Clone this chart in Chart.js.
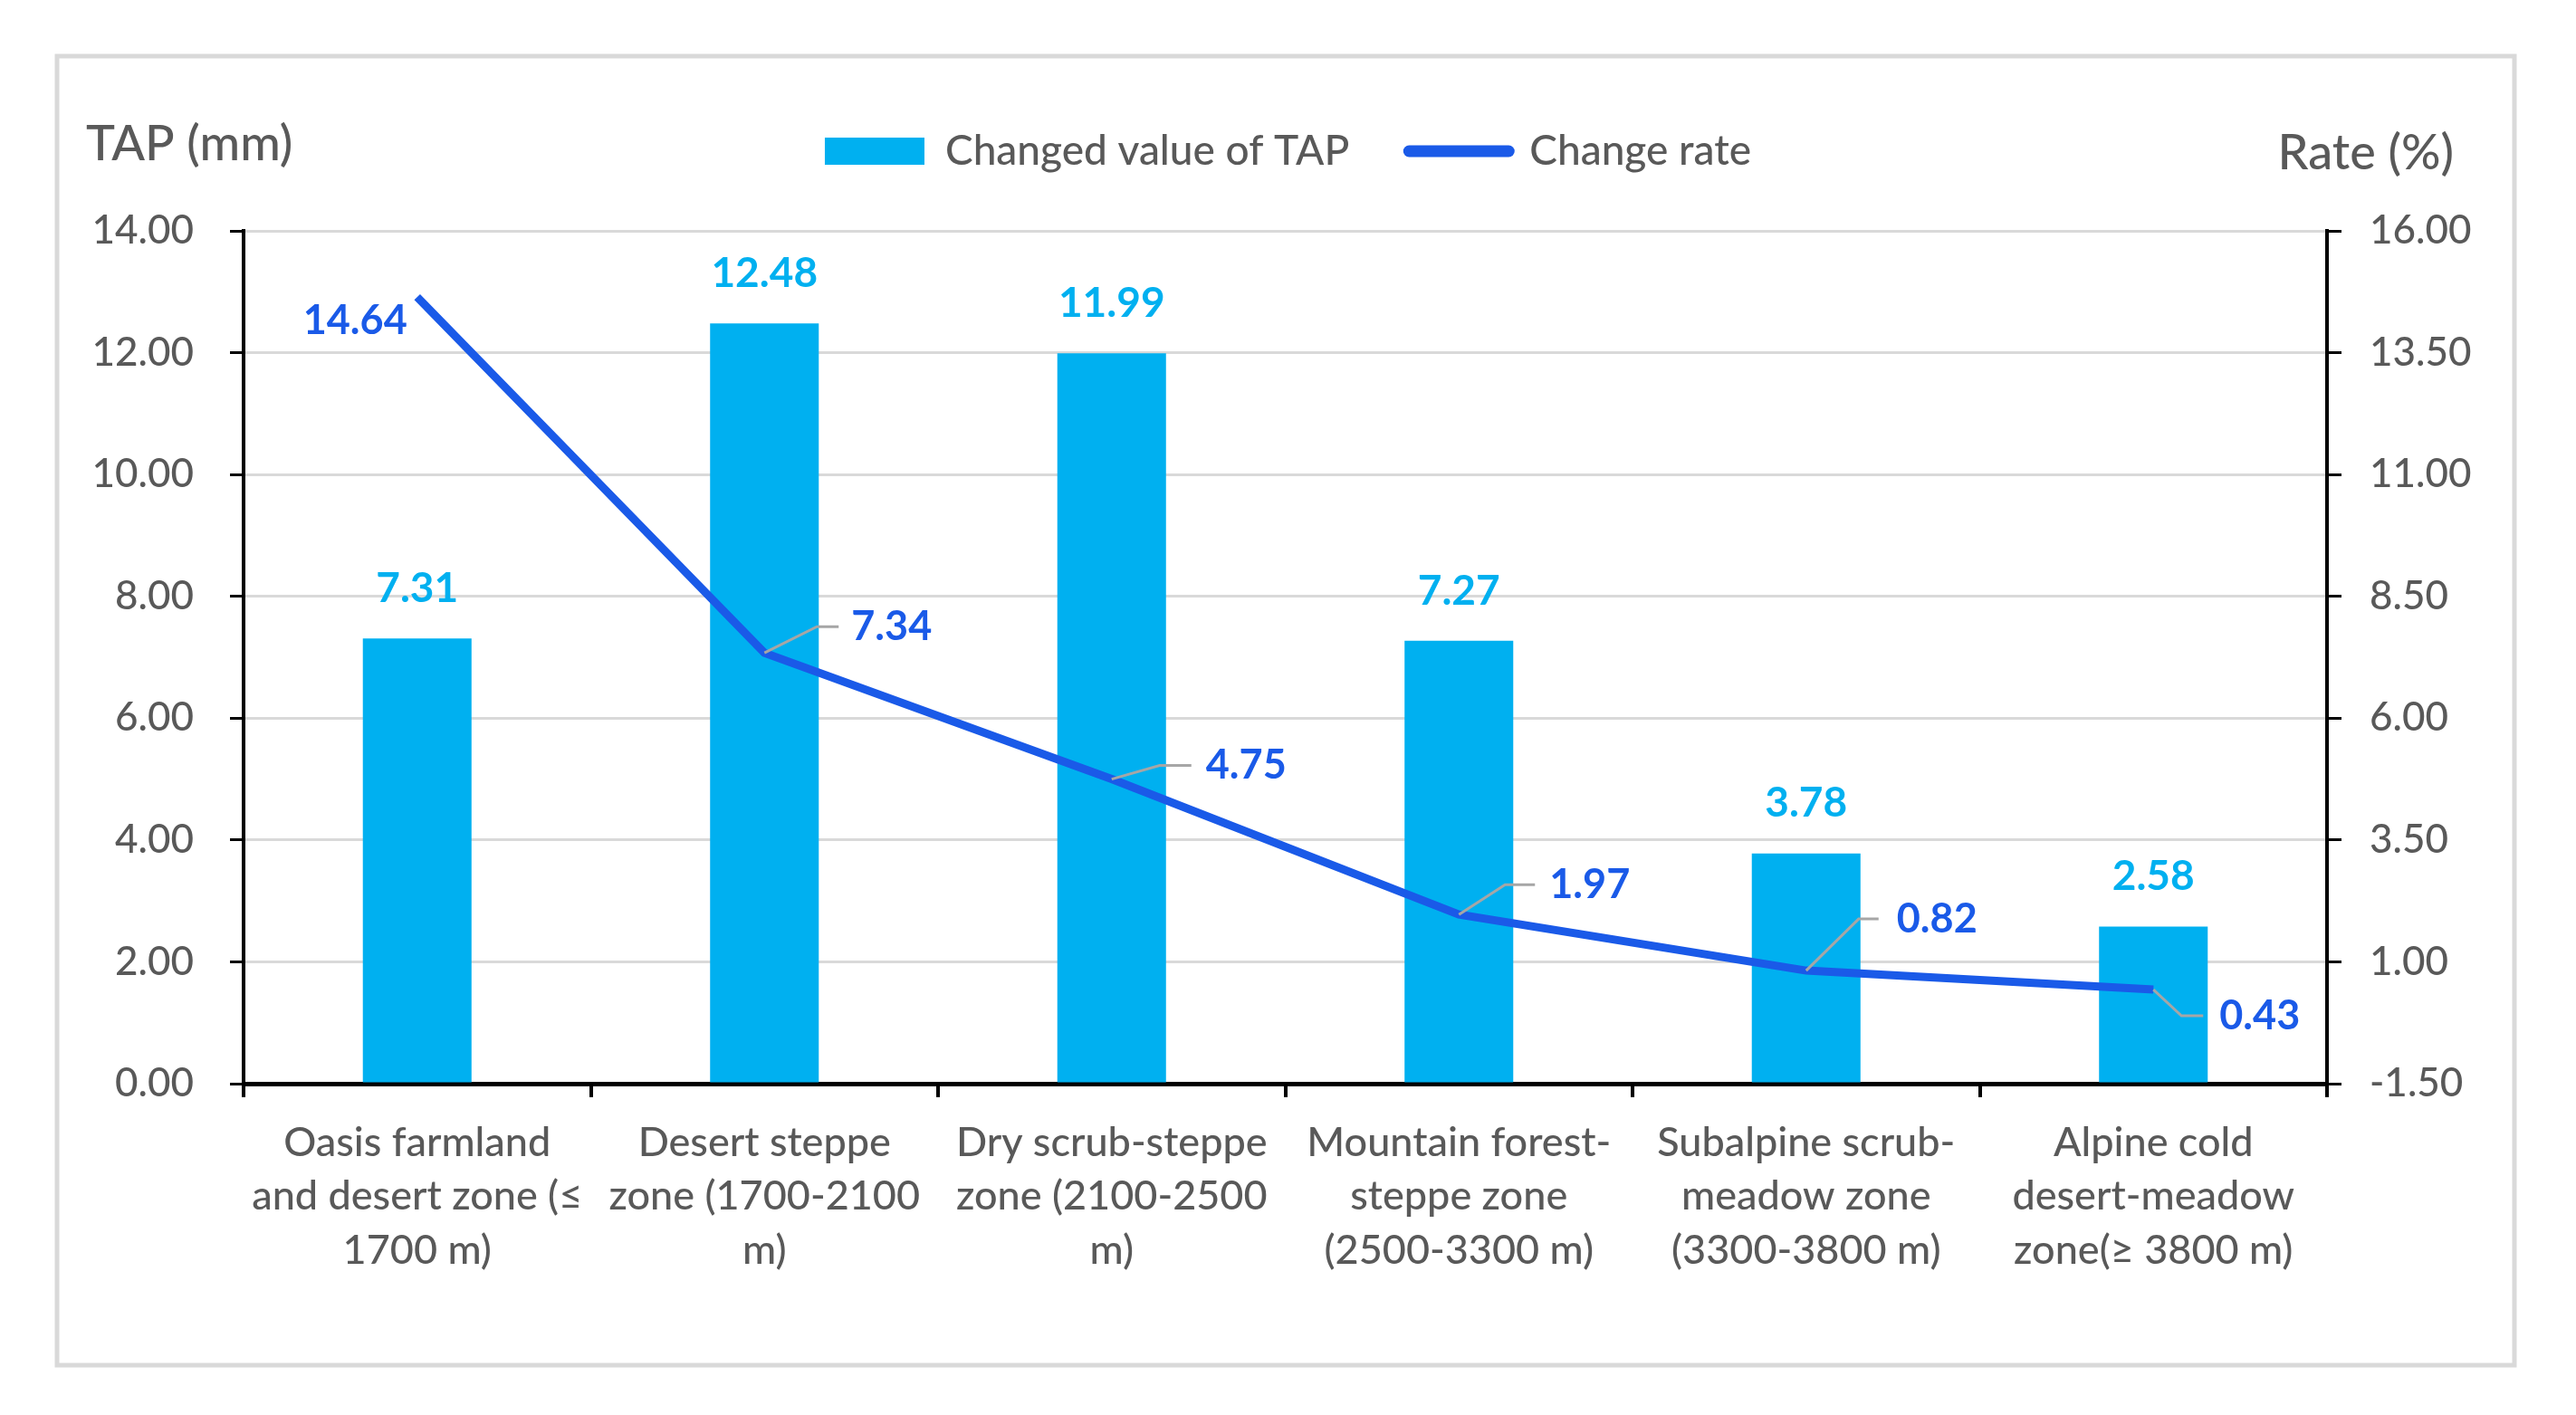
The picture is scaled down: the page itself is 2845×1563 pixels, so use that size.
<!DOCTYPE html>
<html>
<head>
<meta charset="utf-8">
<script src="https://cdn.jsdelivr.net/npm/chart.js@4.4.1/dist/chart.umd.min.js"></script>
<style>
html,body{margin:0;padding:0;background:#ffffff;}
#wrap{width:2845px;height:1563px;}
</style>
</head>
<body>
<div id="wrap"><canvas id="c" width="2845" height="1563"></canvas></div>
<script>
// ---- data ----
const categories = [
  ["Oasis farmland", "and desert zone (\u2264", "1700 m)"],
  ["Desert steppe", "zone (1700-2100", "m)"],
  ["Dry scrub-steppe", "zone (2100-2500", "m)"],
  ["Mountain forest-", "steppe zone", "(2500-3300 m)"],
  ["Subalpine scrub-", "meadow zone", "(3300-3800 m)"],
  ["Alpine cold", "desert-meadow", "zone(\u2265 3800 m)"]
];
const tapChange = [7.31, 12.48, 11.99, 7.27, 3.78, 2.58];
const changeRate = [14.64, 7.34, 4.75, 1.97, 0.82, 0.43];
const seriesNames = ["Changed value of TAP", "Change rate"];
const leftAxisTitle = "TAP (mm)";
const rightAxisTitle = "Rate (%)";
const leftRange = [0, 14, 2];
const rightRange = [-1.5, 16, 2.5];

// ---- styles ----
const BAR_COLOR = '#00B0F0';
const LINE_COLOR = '#1A5AE8';
const TEXT_COLOR = '#595959';
const FONT = 'Lato';
const W = 500;

// leader/label placement for line labels (pixel offsets from the point)
const lineLabelPlacement = [
  {leader: null, tx: -11, ty: 26, align: 'right'},
  {leader: [58, -29, 82], tx: 96, ty: -29, align: 'left'},
  {leader: [53, -15, 88], tx: 104, ty: -15, align: 'left'},
  {leader: [51, -33, 84], tx: 100, ty: -33, align: 'left'},
  {leader: [58, -57, 80], tx: 100, ty: -57, align: 'left'},
  {leader: [31, 29, 55], tx: 73, ty: 29, align: 'left'}
];

const decorPlugin = {
  id: 'decor',
  beforeDraw(chart) {
    const ctx = chart.ctx;
    ctx.save();
    ctx.fillStyle = '#ffffff';
    ctx.fillRect(0, 0, chart.width, chart.height);
    ctx.strokeStyle = '#D9D9D9';
    ctx.lineWidth = 5;
    ctx.strokeRect(63, 62, 2714, 1446);
    ctx.restore();
  },
  afterDatasetsDraw(chart) {
    const ctx = chart.ctx;
    const ca = chart.chartArea;
    ctx.save();
    // axis titles
    ctx.fillStyle = TEXT_COLOR;
    ctx.font = `${W} 54px ${FONT}`;
    ctx.textBaseline = 'middle';
    ctx.textAlign = 'left';
    ctx.fillText(leftAxisTitle, ca.left - 174, ca.top - 95);
    ctx.textAlign = 'right';
    ctx.fillText(rightAxisTitle, ca.right + 140, ca.top - 85);

    // bar labels
    const barMeta = chart.getDatasetMeta(0);
    ctx.font = `bold 46px ${FONT}`;
    ctx.fillStyle = BAR_COLOR;
    ctx.textAlign = 'center';
    barMeta.data.forEach((el, i) => {
      ctx.fillText(tapChange[i].toFixed(2), el.x, el.y - 55);
    });

    // line labels with leader lines
    const lineMeta = chart.getDatasetMeta(1);
    lineMeta.data.forEach((el, i) => {
      const p = lineLabelPlacement[i];
      if (p.leader) {
        ctx.strokeStyle = '#A6A6A6';
        ctx.lineWidth = 3;
        ctx.beginPath();
        ctx.moveTo(el.x, el.y);
        ctx.lineTo(el.x + p.leader[0], el.y + p.leader[1]);
        ctx.lineTo(el.x + p.leader[2], el.y + p.leader[1]);
        ctx.stroke();
      }
      ctx.fillStyle = LINE_COLOR;
      ctx.font = `bold 45px ${FONT}`;
      ctx.textAlign = p.align;
      ctx.textBaseline = 'middle';
      ctx.fillText(changeRate[i].toFixed(2), el.x + p.tx, el.y + p.ty);
    });
    ctx.restore();
  }
};

const tickFont = {family: FONT, size: 44, weight: W};

new Chart(document.getElementById('c'), {
  data: {
    labels: categories,
    datasets: [
      {
        type: 'bar',
        label: seriesNames[0],
        data: tapChange,
        backgroundColor: BAR_COLOR,
        borderWidth: 0,
        yAxisID: 'y',
        order: 1,
        barPercentage: 0.313,
        categoryPercentage: 1.0
      },
      {
        type: 'line',
        label: seriesNames[1],
        data: changeRate,
        borderColor: LINE_COLOR,
        backgroundColor: LINE_COLOR,
        borderWidth: 9,
        pointRadius: 0,
        tension: 0,
        fill: false,
        yAxisID: 'y1',
        order: 0
      }
    ]
  },
  options: {
    responsive: false,
    devicePixelRatio: 1,
    animation: false,
    layout: {padding: {top: 78, left: 0, right: 0, bottom: 0}},
    plugins: {
      tooltip: {enabled: false},
      title: {
        display: true, text: '', position: 'top', weight: 500,
        font: {size: 10, lineHeight: 1}, padding: {top: 0, bottom: 45}
      },
      legend: {
        display: true,
        position: 'top',
        labels: {
          color: TEXT_COLOR,
          font: {family: FONT, size: 46, weight: W},
          padding: 66,
          usePointStyle: true,
          pointStyleWidth: 110,
          boxHeight: 30,
          generateLabels(chart) {
            return [
              {text: seriesNames[0], fillStyle: BAR_COLOR, strokeStyle: BAR_COLOR, lineWidth: 0,
               pointStyle: 'rect', datasetIndex: 0, fontColor: TEXT_COLOR},
              {text: seriesNames[1], fillStyle: LINE_COLOR, strokeStyle: LINE_COLOR, lineWidth: 13,
               lineCap: 'round', pointStyle: 'line', datasetIndex: 1, fontColor: TEXT_COLOR}
            ];
          }
        }
      }
    },
    scales: {
      x: {
        type: 'category',
        offset: true,
        grid: {display: true, drawOnChartArea: false, drawTicks: true, tickLength: 15,
               color: '#000000', lineWidth: 4, offset: true},
        border: {display: true, color: '#000000', width: 5},
        ticks: {color: TEXT_COLOR, font: {family: FONT, size: 45, weight: W, lineHeight: 1.333},
                padding: 20, maxRotation: 0, minRotation: 0, autoSkip: false},
        afterFit(s) { s.height = 366; }
      },
      y: {
        position: 'left',
        min: leftRange[0], max: leftRange[1],
        ticks: {stepSize: leftRange[2], color: TEXT_COLOR, font: tickFont, padding: 40,
                callback: v => Number(v).toFixed(2)},
        grid: {color: '#D9D9D9', lineWidth: 3, tickColor: '#000000', tickLength: 15, tickWidth: 3},
        border: {display: true, color: '#000000', width: 4},
        afterFit(s) { s.width = 269; }
      },
      y1: {
        position: 'right',
        min: rightRange[0], max: rightRange[1],
        ticks: {stepSize: rightRange[2], color: TEXT_COLOR, font: tickFont, padding: 31,
                callback: v => Number(v).toFixed(2)},
        grid: {drawOnChartArea: false, tickColor: '#000000', tickLength: 16, tickWidth: 3},
        border: {display: true, color: '#000000', width: 4},
        afterFit(s) { s.width = 275; }
      }
    }
  },
  plugins: [decorPlugin]
});
</script>
</body>
</html>
